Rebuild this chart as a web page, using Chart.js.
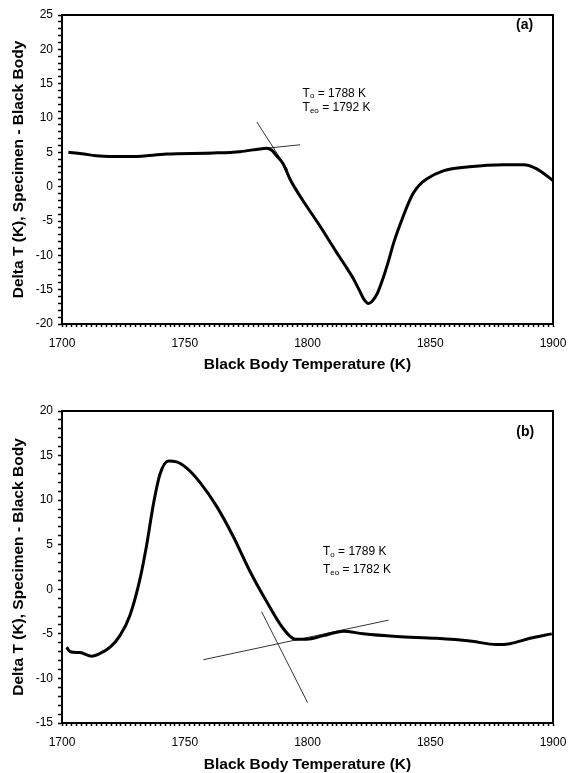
<!DOCTYPE html>
<html lang="en">
<head>
  <meta charset="UTF-8">
  <title>Delta T vs Black Body Temperature</title>
  <style>
    * { margin: 0; padding: 0; box-sizing: border-box; }
    body { background: #fff; width: 568px; height: 773px; position: relative; overflow: hidden; }
    .panel { position: absolute; left: 0; width: 568px; }
    #boxA { top: 0; height: 386px; }
    #boxB { top: 386px; height: 388px; }
  </style>
</head>
<body>
  <div class="panel" id="boxA"><canvas id="chartA" width="568" height="386"></canvas></div>
  <div class="panel" id="boxB"><canvas id="chartB" width="568" height="388"></canvas></div>

  <script src="https://cdn.jsdelivr.net/npm/chart.js"></script>
  <script>
    // panel (a)
    const tempA = [1702.6, 1708, 1714, 1719.5, 1729, 1742.6, 1761.6, 1772.5, 1780.6, 1783.4,
                   1785.5, 1787.4, 1790.1, 1793, 1797, 1805, 1811.9, 1815, 1818.7, 1821,
                   1823, 1824.8, 1826.5, 1828.5, 1830.9, 1833, 1835, 1837, 1839, 1841,
                   1843, 1845.5, 1848.5, 1855.3, 1866, 1879.8, 1888, 1893.4, 1900];
    const deltaA = [5.0, 4.8, 4.5, 4.4, 4.4, 4.75, 4.9, 5.1, 5.5, 5.6,
                    5.3, 4.5, 3.3, 1.0, -1.4, -5.7, -9.6, -11.3, -13.4, -15.0,
                    -16.4, -17, -16.6, -15.5, -13.2, -10.8, -8.3, -6.2, -4.3, -2.5,
                    -1.0, 0.2, 1.1, 2.3, 2.9, 3.2, 3.2, 2.6, 0.9];
    const steepA = { x: [1779.4, 1792], y: [9.4, 2.4] };
    const flatA = { x: [1778, 1797], y: [5.4, 6.1] };
    const notesA = { x: 1798, y: [13.6, 11.5], sub: ['o', 'eo'], text: [' = 1788 K', ' = 1792 K'] };

    // panel (b)
    const tempB = [1701.9, 1703.3, 1707.3, 1712.1, 1715.5, 1719.6, 1723.6, 1727.7, 1731.8, 1734.5,
                   1737.2, 1739.9, 1743.3, 1746.7, 1750.8, 1756.2, 1763, 1769.8, 1776.6, 1783.4,
                   1790.1, 1795, 1799.7, 1806.5, 1814.6, 1822.7, 1836.3, 1852.6, 1866.2, 1877,
                   1882.5, 1890.6, 1899.5];
    const deltaB = [-6.5, -7.0, -7.1, -7.5, -7.2, -6.5, -5.2, -2.9, 1.2, 5,
                    9.5, 12.9, 14.4, 14.3, 13.6, 12, 9.3, 5.9, 2, -1.4,
                    -4.4, -5.6, -5.6, -5.2, -4.7, -5.0, -5.3, -5.5, -5.8, -6.2,
                    -6.1, -5.5, -5.0];
    const flatB = { x: [1757.6, 1833], y: [-7.9, -3.46] };
    const steepB = { x: [1781.3, 1800], y: [-2.5, -12.7] };
    const notesB = { x: 1806.3, y: [4.2, 2.15], sub: ['o', 'eo'], text: [' = 1789 K', ' = 1782 K'] };

    const FONT = "'Liberation Sans', Arial, sans-serif";

    function pts(xs, ys) {
      return xs.map((x, i) => ({ x: x, y: ys[i] }));
    }

    // box round the plot (top and right edges)
    const frame = {
      id: 'frame',
      afterDraw(chart) {
        const a = chart.chartArea, ctx = chart.ctx;
        ctx.save();
        ctx.strokeStyle = '#000';
        ctx.lineWidth = 2;
        ctx.beginPath();
        ctx.moveTo(a.left, a.top);
        ctx.lineTo(a.right, a.top);
        ctx.lineTo(a.right, a.bottom);
        ctx.stroke();
        ctx.restore();
      }
    };

    // T_o / T_eo labels and panel letter, placed through the scales
    const notes = {
      id: 'notes',
      afterDatasetsDraw(chart, args, opts) {
        const ctx = chart.ctx, xs = chart.scales.x, ys = chart.scales.y;
        ctx.save();
        ctx.fillStyle = '#000';
        ctx.textBaseline = 'middle';
        ctx.textAlign = 'left';
        const n = opts.note;
        n.y.forEach((v, i) => {
          let px = xs.getPixelForValue(n.x);
          const py = ys.getPixelForValue(v);
          ctx.font = '12px ' + FONT;
          ctx.fillText('T', px, py);
          px += ctx.measureText('T').width;
          ctx.font = '8px ' + FONT;
          ctx.fillText(n.sub[i], px, py + 3);
          px += ctx.measureText(n.sub[i]).width;
          ctx.font = '12px ' + FONT;
          ctx.fillText(n.text[i], px, py);
        });
        ctx.font = 'bold 14px ' + FONT;
        ctx.textAlign = 'right';
        ctx.fillText(opts.panel.label, xs.getPixelForValue(opts.panel.x), ys.getPixelForValue(opts.panel.y));
        ctx.restore();
      }
    };

    function makeChart(id, temps, deltas, lines, yMin, yMax, note, panel, padTop, padBottom, xHeight) {
      const datasets = [{
        data: pts(temps, deltas),
        borderColor: '#000',
        borderWidth: 3,
        pointRadius: 0,
        cubicInterpolationMode: 'monotone'
      }];
      lines.forEach(l => datasets.push({
        data: pts(l.x, l.y),
        borderColor: '#000',
        borderWidth: 0.8,
        pointRadius: 0
      }));

      return new Chart(document.getElementById(id), {
        type: 'line',
        data: { datasets: datasets },
        plugins: [frame, notes],
        options: {
          responsive: false,
          animation: false,
          layout: { padding: { left: 9, right: 0, top: padTop, bottom: padBottom } },
          plugins: {
            legend: { display: false },
            tooltip: { enabled: false },
            notes: { note: note, panel: panel }
          },
          scales: {
            x: {
              type: 'linear',
              min: 1700, max: 1900,
              afterFit(s) { s.height = xHeight; s.paddingLeft = 0; s.paddingRight = 15; },
              border: { display: true, color: '#000', width: 2 },
              grid: { drawOnChartArea: false, tickLength: 3, tickWidth: 1.5, tickColor: '#000' },
              ticks: {
                stepSize: 2, autoSkip: false, maxRotation: 0, padding: 9,
                color: '#000', font: { family: FONT, size: 12 },
                callback: v => (v % 50 === 0 ? String(v) : '')
              },
              title: {
                display: true, text: 'Black Body Temperature (K)', color: '#000',
                font: { family: FONT, size: 15.5, weight: 'bold' }, padding: { top: 0, bottom: 0 }
              }
            },
            y: {
              min: yMin, max: yMax,
              afterFit(s) { s.width = 53; },
              border: { display: true, color: '#000', width: 2 },
              grid: { drawOnChartArea: false, tickLength: 4, tickWidth: 1.5, tickColor: '#000' },
              ticks: {
                stepSize: 1, autoSkip: false, padding: 5,
                color: '#000', font: { family: FONT, size: 12 },
                callback: v => (v % 5 === 0 ? String(v) : '')
              },
              title: {
                display: true, text: 'Delta T (K), Specimen - Black Body', color: '#000',
                font: { family: FONT, size: 15.5, weight: 'bold' }, padding: { top: 0, bottom: 0 }
              }
            }
          }
        }
      });
    }

    makeChart('chartA', tempA, deltaA, [steepA, flatA], -20, 25, notesA,
      { label: '(a)', x: 1891.9, y: 23.5 }, 15, 12, 50);
    makeChart('chartB', tempB, deltaB, [flatB, steepB], -15, 20, notesB,
      { label: '(b)', x: 1892.3, y: 17.6 }, 25, 0, 51);
  </script>
</body>
</html>
